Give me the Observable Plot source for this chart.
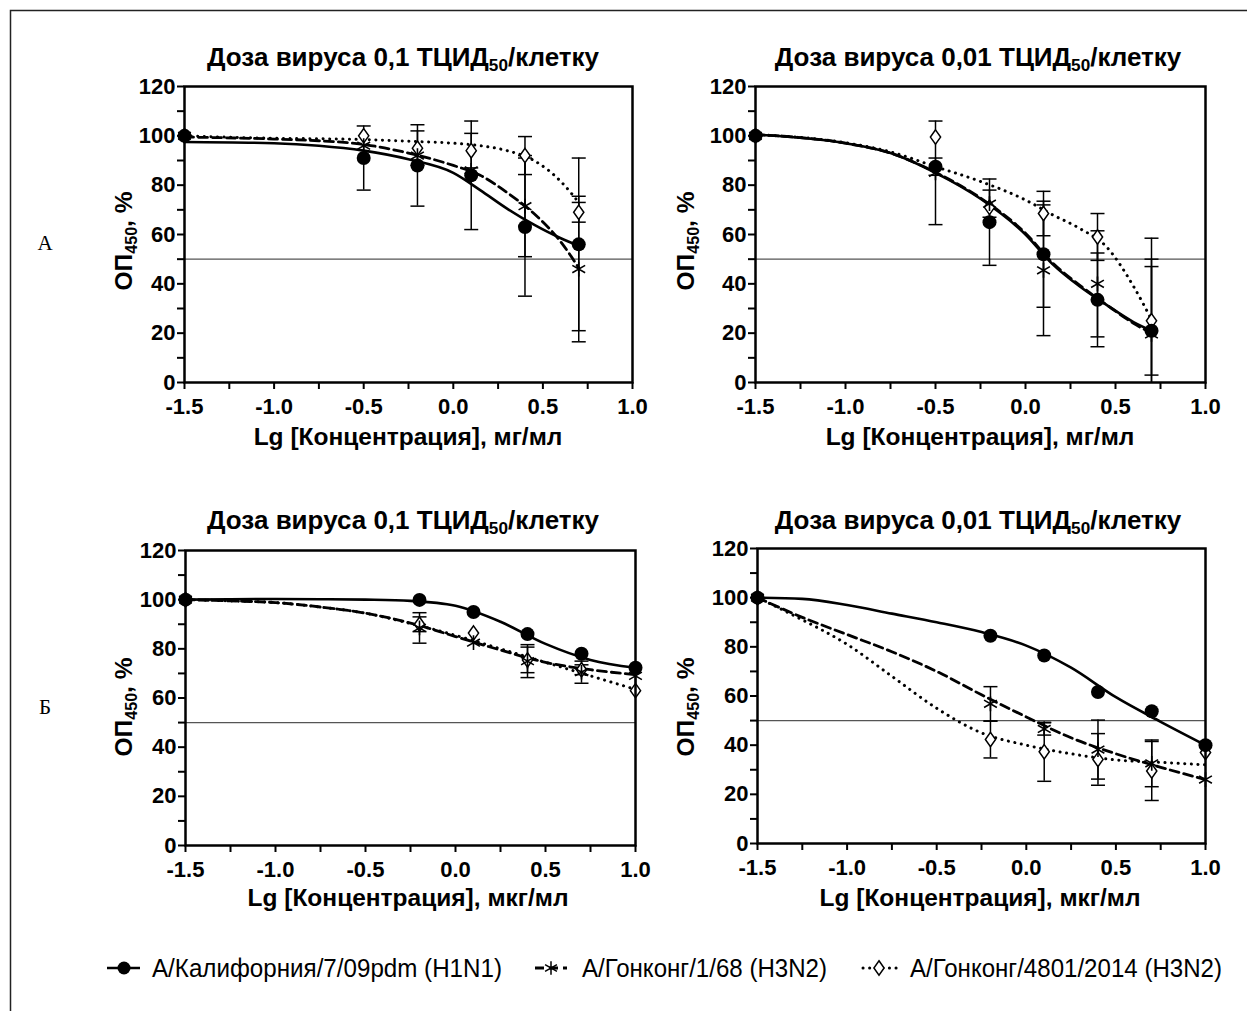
<!DOCTYPE html>
<html>
<head>
<meta charset="utf-8">
<script src="https://cdn.jsdelivr.net/npm/d3@7"></script>
<script src="https://cdn.jsdelivr.net/npm/@observablehq/plot@0.6"></script>
<style>
html,body{margin:0;padding:0;background:#fff;}
#root{position:relative;width:1247px;height:1011px;overflow:hidden;background:#fff;}
#root > svg{position:absolute;margin:0;}
</style>
</head>
<body>
<div id="root"></div>
<script>
// ---------- data ----------
const strains = ["А/Калифорния/7/09pdm (H1N1)", "А/Гонконг/1/68 (H3N2)", "А/Гонконг/4801/2014 (H3N2)"];
const titleMain = ["Доза вируса 0,1 ТЦИД", "Доза вируса 0,01 ТЦИД"];
const titleSub = "50";
const titleTail = "/клетку";
const xLabels = ["Lg [Концентрация], мг/мл", "Lg [Концентрация], мкг/мл"];
const yLabelMain = "ОП", yLabelSub = "450", yLabelTail = ", %";
const rowLabels = ["А", "Б"];
const yTicks = [0, 20, 40, 60, 80, 100, 120];
const yMinor = [10, 30, 50, 70, 90, 110];
const xTicks = [-1.5, -1.0, -0.5, 0, 0.5, 1.0];
const xMinor = [-1.25, -0.75, -0.25, 0.25, 0.75];
const halfLine = [50];

const xA = [-1.5, -0.5, -0.2, 0.1, 0.4, 0.7];
const xB = [-1.5, -0.2, 0.1, 0.4, 0.7, 1.0];
const fitXA = [-1.5, -1.0, -0.75, -0.5, -0.25, 0, 0.15, 0.3, 0.45, 0.6, 0.7];
const fitXB = [-1.5, -1.25, -1.0, -0.75, -0.5, -0.25, 0, 0.25, 0.5, 0.75, 1.0];

// Panel A, dose 0.1
const a1CalY = [100, 91, 88, 84, 63, 56];
const a1CalErr = [0, 13, 16.5, 22, 28, 35];
const a1Hk68Y = [100, 96, 92, 86, 71.5, 46];
const a1Hk68Err = [0, 0, 0, 0, 20.5, 29.5];
const a1Hk14Y = [100, 100, 95, 94, 92, 69];
const a1Hk14Err = [0, 0, 7, 7, 7.7, 4];
const a1CalFit = [97.5, 97, 96, 94, 90.5, 85, 78, 70.5, 64, 58.5, 55.5];
const a1Hk68Fit = [99.5, 98.7, 98, 96.5, 93, 88, 84, 77, 68.5, 57, 46.5];
const a1Hk14Fit = [100, 99, 98.8, 98.5, 97.8, 97, 96, 94, 90, 81.5, 73];

// Panel A, dose 0.01
const a2CalY = [100, 87.5, 65, 52, 33.5, 21];
const a2CalErr = [0, 3.5, 17.5, 21.5, 19, 29];
const a2Hk68Y = [100, 85, 72.5, 45.5, 40, 19.5];
const a2Hk68Err = [0, 21, 5.5, 26.5, 21.5, 39];
const a2Hk14Y = [100, 99.5, 71, 68.5, 59, 25];
const a2Hk14Err = [0, 0, 0, 9, 9.5, 22];
const a2CalFit = [100.5, 97, 93, 85, 74.5, 60, 48, 39, 31.5, 24.5, 21];
const a2Hk68Fit = [100.5, 97, 93, 85.2, 74.8, 60.5, 48.5, 39.5, 31.5, 24, 20];
const a2Hk14Fit = [100.5, 97.2, 93.5, 87.5, 81.5, 74, 68, 62.5, 55, 39, 25.5];

// Panel Б, dose 0.1
const b1CalY = [100, 99.9, 95, 86, 78, 72.3];
const b1CalErr = [0, 0, 0, 0, 0, 0];
const b1Hk68Y = [100, 88.5, 82.5, 75, 70.5, 69];
const b1Hk68Err = [0, 6.2, 0, 6.7, 4.5, 0];
const b1Hk14Y = [100, 90, 86.4, 75.5, 71.5, 63];
const b1Hk14Err = [0, 3, 0, 5.2, 2, 0];
const b1CalFit = [100, 100.2, 100.3, 100.2, 100, 99.5, 97.5, 91, 82, 75.5, 72.3];
const b1Hk68Fit = [100, 99.5, 98.8, 97, 94.5, 90.5, 85, 79.5, 74.5, 71.5, 69.5];
const b1Hk14Fit = [100, 99.5, 98.8, 97, 94.5, 90.3, 85.5, 80, 74.5, 69, 63.5];

// Panel Б, dose 0.01
const b2CalY = [100, 84.5, 76.5, 61.6, 53.8, 40];
const b2CalErr = [0, 0, 0, 0, 0, 0];
const b2Hk68Y = [100, 56.8, 46.6, 38.2, 32.6, 26];
const b2Hk68Err = [0, 7, 2.5, 12, 9.5, 0];
const b2Hk14Y = [100, 42.3, 37.3, 34.2, 29.5, 37];
const b2Hk14Err = [0, 7.5, 12, 10.5, 12, 0];
const b2CalFit = [100, 99.5, 97, 93.5, 90, 86, 80.5, 71.5, 59.5, 49.5, 40];
const b2Hk68Fit = [100, 92, 85, 78, 70, 60.5, 51.5, 43, 36.5, 31, 26];
const b2Hk14Fit = [100, 91, 81, 68, 55, 45, 40, 36.5, 34, 33, 32];

// ---------- drawing ----------
const FONT = "'Liberation Sans', Arial, Helvetica, sans-serif";
const root = document.getElementById("root");

const capSymbol = {draw(ctx, size) {const r = Math.sqrt(size / Math.PI); ctx.moveTo(-r, 0); ctx.lineTo(r, 0);}};
const diamondSymbol = {draw(ctx, size) {
  const r = Math.sqrt(size / Math.PI);
  ctx.moveTo(0, -r * 1.2); ctx.lineTo(r * 0.85, 0); ctx.lineTo(0, r * 1.2); ctx.lineTo(-r * 0.85, 0); ctx.closePath();
}};
const fmtX = d => (Math.abs(d) < 1e-9 ? 0 : d).toFixed(1);

const styles = [
  {stroke: "#000", strokeWidth: 2.6},
  {stroke: "#000", strokeWidth: 2.8, strokeDasharray: "9,5"},
  {stroke: "#000", strokeWidth: 3, strokeDasharray: "0.1,6.5", strokeLinecap: "round"}
];

function makePanel(p) {
  const mL = 80, mT = 20, mR = 30, mB = 40;
  const pts = [], bars = [], lines = [];
  for (let k = 0; k < 3; k++) {
    p.xs.forEach((x, j) => {
      pts.push({x, y: p.ys[k][j], k});
      if (p.errs[k][j] > 0) bars.push({x, lo: p.ys[k][j] - p.errs[k][j], hi: p.ys[k][j] + p.errs[k][j], k});
    });
    p.fitX.forEach((x, j) => lines.push({x, y: p.fits[k][j], k}));
  }
  const byK = (arr, k) => arr.filter(d => d.k === k);
  const chart = Plot.plot({
    width: mL + p.frameW + mR, height: mT + p.frameH + mB,
    marginLeft: mL, marginRight: mR, marginTop: mT, marginBottom: mB,
    x: {domain: [-1.5, 1.0]},
    y: {domain: [0, 120]},
    style: {fontFamily: FONT, fontSize: "22px", fontWeight: "bold", color: "#000", background: "transparent", overflow: "visible"},
    marks: [
      Plot.ruleY(halfLine, {stroke: "#555", strokeWidth: 1.2}),
      ...[0, 1, 2].map(k => Plot.line(byK(lines, k), {x: "x", y: "y", curve: "monotone-x", ...styles[k]})),
      Plot.ruleX(bars, {x: "x", y1: "lo", y2: "hi", stroke: "#000", strokeWidth: 1.5, clip: true}),
      Plot.dot(bars, {x: "x", y: "hi", symbol: capSymbol, r: 7, stroke: "#000", strokeWidth: 1.5, clip: true}),
      Plot.dot(bars, {x: "x", y: "lo", symbol: capSymbol, r: 7, stroke: "#000", strokeWidth: 1.5, clip: true}),
      Plot.dot(byK(pts, 2), {x: "x", y: "y", symbol: diamondSymbol, r: 6, fill: "#fff", stroke: "#000", strokeWidth: 1.5}),
      Plot.dot(byK(pts, 1), {x: "x", y: "y", symbol: "asterisk", r: 7, stroke: "#000", strokeWidth: 1.6}),
      Plot.dot(byK(pts, 0), {x: "x", y: "y", symbol: "circle", r: 7, fill: "#000"}),
      Plot.axisY({ticks: yMinor, tickSize: 7, tickFormat: () => "", label: null, strokeWidth: 2}),
      Plot.axisY({ticks: yTicks, tickSize: 7, tickPadding: 2, label: null, strokeWidth: 2, fontWeight: "bold"}),
      Plot.axisX({ticks: xMinor, tickSize: 7, tickFormat: () => "", label: null, strokeWidth: 2}),
      Plot.axisX({ticks: xTicks, tickSize: 7, tickPadding: 9, tickFormat: fmtX, label: null, strokeWidth: 2, fontWeight: "bold"}),
      Plot.frame({stroke: "#000", strokeWidth: 2.5})
    ]
  });
  chart.style.position = "absolute";
  chart.style.left = (p.left - mL) + "px";
  chart.style.top = (p.top - mT) + "px";
  root.appendChild(chart);
}

makePanel({left: 184, top: 86, frameW: 448, frameH: 296, xs: xA, fitX: fitXA,
  ys: [a1CalY, a1Hk68Y, a1Hk14Y], errs: [a1CalErr, a1Hk68Err, a1Hk14Err], fits: [a1CalFit, a1Hk68Fit, a1Hk14Fit]});
makePanel({left: 755, top: 86, frameW: 450, frameH: 296, xs: xA, fitX: fitXA,
  ys: [a2CalY, a2Hk68Y, a2Hk14Y], errs: [a2CalErr, a2Hk68Err, a2Hk14Err], fits: [a2CalFit, a2Hk68Fit, a2Hk14Fit]});
makePanel({left: 185, top: 550, frameW: 450, frameH: 295, xs: xB, fitX: fitXB,
  ys: [b1CalY, b1Hk68Y, b1Hk14Y], errs: [b1CalErr, b1Hk68Err, b1Hk14Err], fits: [b1CalFit, b1Hk68Fit, b1Hk14Fit]});
makePanel({left: 757, top: 548, frameW: 448, frameH: 295, xs: xB, fitX: fitXB,
  ys: [b2CalY, b2Hk68Y, b2Hk14Y], errs: [b2CalErr, b2Hk68Err, b2Hk14Err], fits: [b2CalFit, b2Hk68Fit, b2Hk14Fit]});

// ---------- overlay: texts, legend, border ----------
const ov = d3.create("svg").attr("width", 1247).attr("height", 1011)
  .style("position", "absolute").style("left", "0px").style("top", "0px").style("pointer-events", "none")
  .attr("font-family", FONT);

ov.append("path").attr("d", "M10.5,1011V10.5H1247").attr("fill", "none").attr("stroke", "#222").attr("stroke-width", 1.5);

function subText(g, x, y, main, sub, tail, size, rotate) {
  const t = g.append("text").attr("text-anchor", "middle").attr("font-size", size).attr("font-weight", "bold").attr("fill", "#000")
    .attr("transform", `translate(${x},${y})` + (rotate ? " rotate(-90)" : ""));
  t.append("tspan").text(main);
  t.append("tspan").attr("font-size", size * 0.66).attr("dy", size * 0.2).text(sub);
  t.append("tspan").attr("dy", -size * 0.2).text(tail);
}

const titlePos = [[403, 66, 0], [978, 66, 1], [403, 529, 0], [978, 529, 1]];
titlePos.forEach(([x, y, i]) => subText(ov, x, y, titleMain[i], titleSub, titleTail, 26));

const xLabPos = [[408, 445, 0], [980, 445, 0], [408, 906, 1], [980, 906, 1]];
xLabPos.forEach(([x, y, i]) => ov.append("text").attr("x", x).attr("y", y).attr("text-anchor", "middle")
  .attr("font-size", 24.5).attr("font-weight", "bold").text(xLabels[i]));

const yLabPos = [[132, 241], [694, 241], [132, 707], [694, 707]];
yLabPos.forEach(([x, y]) => subText(ov, x, y, yLabelMain, yLabelSub, yLabelTail, 24.5, true));

[[45, 250, 0], [45, 714, 1]].forEach(([x, y, i]) => ov.append("text").attr("x", x).attr("y", y).attr("text-anchor", "middle")
  .attr("font-family", "'Liberation Serif', 'DejaVu Serif', serif").attr("font-size", 21).text(rowLabels[i]));

// legend
const legY = 968;
const legItems = [
  {x1: 107, x2: 140, xs: 124, tx: 152, tw: 350},
  {x1: 535, x2: 567, xs: 551, tx: 582, tw: 245},
  {x1: 863, x2: 898, xs: 879, tx: 910, tw: 312}
];
legItems.forEach((it, k) => {
  const s = styles[k];
  ov.append("line").attr("x1", it.x1).attr("x2", it.x2).attr("y1", legY).attr("y2", legY)
    .attr("stroke", "#000").attr("stroke-width", s.strokeWidth)
    .attr("stroke-dasharray", s.strokeDasharray || null).attr("stroke-linecap", s.strokeLinecap || null);
  const sym = k === 0 ? d3.symbol(d3.symbolCircle, Math.PI * 6.5 * 6.5)
            : k === 1 ? d3.symbol(d3.symbolAsterisk, Math.PI * 6.5 * 6.5)
            : d3.symbol(diamondSymbol, Math.PI * 36);
  ov.append("path").attr("transform", `translate(${it.xs},${legY})`).attr("d", sym())
    .attr("fill", k === 0 ? "#000" : k === 2 ? "#fff" : "none").attr("stroke", k === 0 ? null : "#000").attr("stroke-width", 1.5);
  ov.append("text").attr("x", it.tx).attr("y", legY + 9).attr("font-size", 25)
    .attr("font-family", "'Liberation Sans Narrow', 'Liberation Sans', Arial, sans-serif")
    .attr("textLength", it.tw).attr("lengthAdjust", "spacingAndGlyphs").text(strains[k]);
});

root.appendChild(ov.node());
</script>
</body>
</html>
